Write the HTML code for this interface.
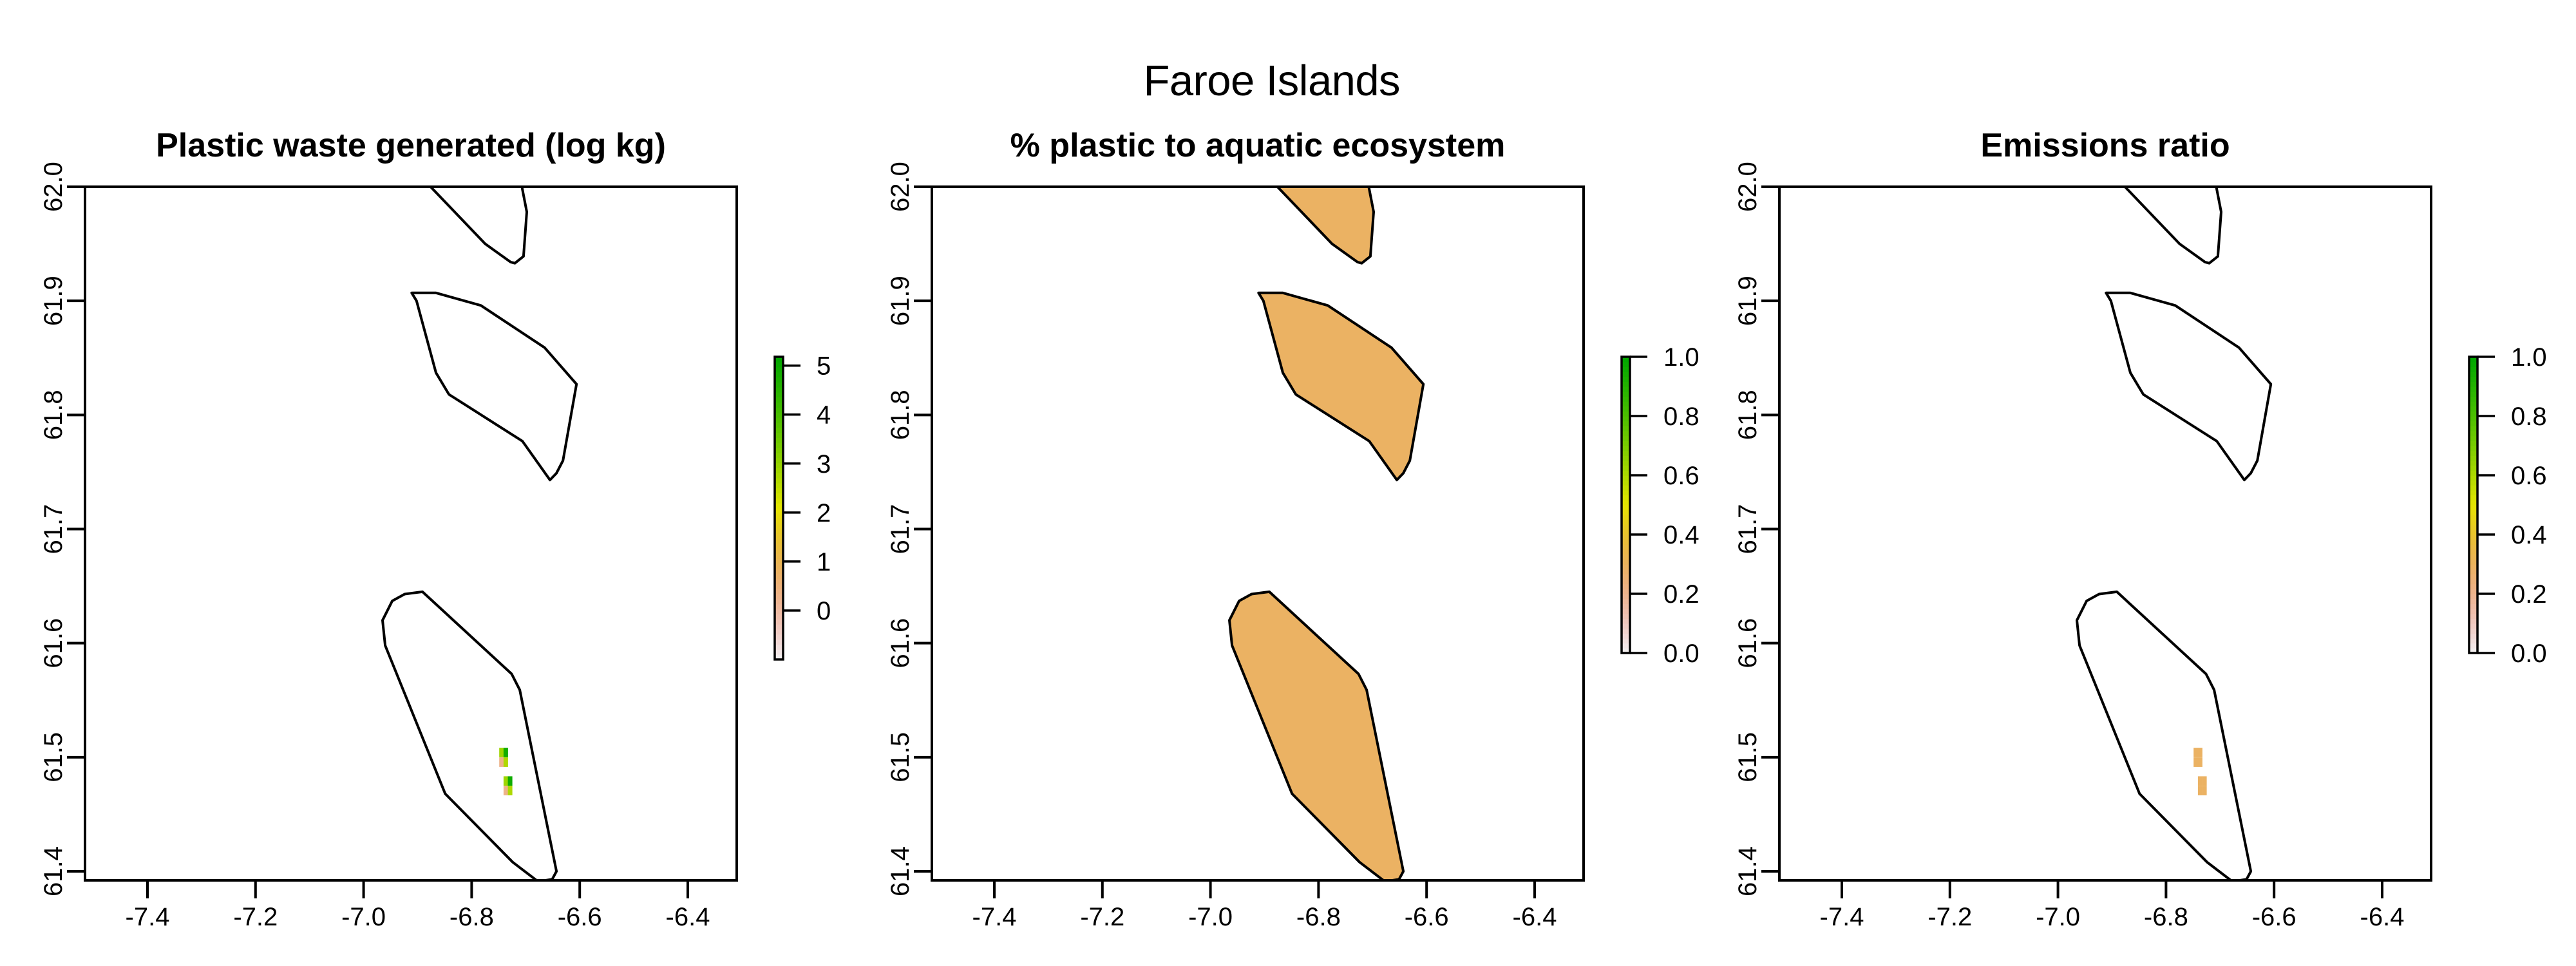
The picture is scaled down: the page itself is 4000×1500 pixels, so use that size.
<!DOCTYPE html>
<html><head><meta charset="utf-8"><style>
html,body{margin:0;padding:0;background:#fff;}
svg{display:block;font-family:"Liberation Sans",Arial,sans-serif;}
</style></head><body>
<svg id="fig" width="4000" height="1500" viewBox="0 0 4000 1500" xmlns="http://www.w3.org/2000/svg">
<rect width="4000" height="1500" fill="#fff"/>
<text x="1975" y="148" font-size="67" text-anchor="middle" textLength="399">Faroe Islands</text>
</svg>
<script>
// ---- data ----
const panelTitles = ["Plastic waste generated (log kg)", "% plastic to aquatic ecosystem", "Emissions ratio"];
const xTicks = [-7.4, -7.2, -7.0, -6.8, -6.6, -6.4];
const xTickLabels = ["-7.4", "-7.2", "-7.0", "-6.8", "-6.6", "-6.4"];
const yTicks = [61.4, 61.5, 61.6, 61.7, 61.8, 61.9, 62.0];
const yTickLabels = ["61.4", "61.5", "61.6", "61.7", "61.8", "61.9", "62.0"];
const island1Lon = [-6.876, -6.775, -6.728, -6.720, -6.704, -6.698, -6.707, -6.700, -6.880];
const island1Lat = [62.000, 61.950, 61.934, 61.933, 61.939, 61.978, 62.000, 62.050, 62.050];
const island2Lon = [-6.911, -6.866, -6.783, -6.665, -6.606, -6.631, -6.643, -6.655, -6.706, -6.842, -6.866, -6.902];
const island2Lat = [61.907, 61.907, 61.896, 61.859, 61.827, 61.760, 61.749, 61.743, 61.777, 61.818, 61.837, 61.900];
const island3Lon = [-6.891, -6.924, -6.947, -6.965, -6.960, -6.849, -6.724, -6.677, -6.651, -6.643, -6.711, -6.726];
const island3Lat = [61.645, 61.643, 61.637, 61.620, 61.598, 61.468, 61.408, 61.391, 61.393, 61.400, 61.559, 61.573];
// raster cells (lower-left lon/lat of each 1/120 degree cell)
const cellLon = [-6.7490, -6.7410, -6.7490, -6.7410, -6.7410, -6.7330, -6.7410, -6.7330];
const cellLat = [61.5000, 61.5000, 61.4915, 61.4915, 61.4750, 61.4750, 61.4666, 61.4666];
const wasteValues = [2.9, 4.9, 0.3, 2.7, 2.9, 4.9, 0.3, 2.7];
const emissionValues = [0.29, 0.29, 0.29, 0.29, 0.29, 0.29, 0.29, 0.29];
const aquaticFraction = 0.29;
const legend1Range = [-1.0, 5.18];
const legend1Ticks = [0, 1, 2, 3, 4, 5];
const legendUnitRange = [0, 1];
const legendUnitTicks = [0, 0.2, 0.4, 0.6, 0.8, 1.0];
const legendUnitLabels = ["0.0", "0.2", "0.4", "0.6", "0.8", "1.0"];

// ---- layout ----
const NS = "http://www.w3.org/2000/svg";
const svg = document.getElementById('fig');
const offsets = [0, 1315, 2631];
const L = 132, R = 1144, T = 290, B = 1367;
const xmin = -7.5156, xmax = -6.3094, ymin = 61.3921, ymax = 62.0;
const CELL = 1 / 120;

function mk(tag, attrs, parent) {
  const e = document.createElementNS(NS, tag);
  for (const k in attrs) e.setAttribute(k, attrs[k]);
  (parent || svg).appendChild(e);
  return e;
}
function hsv2rgb(h, s, v) {
  const c = v * s, hp = (h % 360) / 60, x = c * (1 - Math.abs(hp % 2 - 1));
  let r = 0, g = 0, b = 0;
  if (hp < 1) { r = c; g = x; } else if (hp < 2) { r = x; g = c; } else if (hp < 3) { g = c; b = x; }
  else if (hp < 4) { g = x; b = c; } else if (hp < 5) { r = x; b = c; } else { r = c; b = x; }
  const m = v - c;
  return `rgb(${Math.round((r + m) * 255)},${Math.round((g + m) * 255)},${Math.round((b + m) * 255)})`;
}
// reversed terrain colors, t in [0,1] (low -> high)
function terrain(t) {
  t = Math.max(0, Math.min(1, t));
  if (t < 0.5) { const u = t / 0.5; return hsv2rgb(60 * u, u, 0.95 - 0.05 * u); }
  const u = (t - 0.5) / 0.5; return hsv2rgb(60 + 60 * u, 1, 0.9 - 0.25 * u);
}

offsets.forEach((off, p) => {
  const g = mk('g', {});
  
  
  const sx = lon => off + L + (lon - xmin) / (xmax - xmin) * (R - L);
  const sy = lat => T + (ymax - lat) / (ymax - ymin) * (B - T);

  const cp = mk('clipPath', { id: 'clip' + p }, g);
  mk('rect', { x: off + L, y: T, width: R - L, height: B - T }, cp);
  const plot = mk('g', { 'clip-path': `url(#clip${p})` }, g);
  
  

  const islands = [[island1Lon, island1Lat], [island2Lon, island2Lat], [island3Lon, island3Lat]];
  islands.forEach((isl, i) => {
    const pts = isl[0].map((lon, k) => sx(lon).toFixed(1) + ',' + sy(isl[1][k]).toFixed(1)).join(' ');
    const fill = p === 1 ? terrain((aquaticFraction - legendUnitRange[0]) / (legendUnitRange[1] - legendUnitRange[0])) : 'none';
    const poly = mk('polygon', { points: pts, fill: fill, stroke: '#000', 'stroke-width': 4, 'stroke-linejoin': 'round' }, plot);
    
    
  });

  if (p !== 1) {
    const vals = p === 0 ? wasteValues : emissionValues;
    const rng = p === 0 ? legend1Range : legendUnitRange;
    cellLon.forEach((lon, k) => {
      const x0 = sx(lon), x1 = sx(lon + CELL), y0 = sy(cellLat[k] + CELL), y1 = sy(cellLat[k]);
      const r = mk('rect', { x: x0.toFixed(1), y: y0.toFixed(1), width: (x1 - x0).toFixed(1), height: (y1 - y0).toFixed(1),
        fill: terrain((vals[k] - rng[0]) / (rng[1] - rng[0])) }, plot);
      
      
    });
  }

  const box = mk('rect', { x: off + L, y: T, width: R - L, height: B - T, fill: 'none', stroke: '#000', 'stroke-width': 4 }, g);
  
  

  xTicks.forEach((v, i) => {
    const x = sx(v);
    const t = mk('line', { x1: x, y1: B, x2: x, y2: B + 28, stroke: '#000', 'stroke-width': 4 }, g);
    
    
    const lb = mk('text', { x: x, y: 1437, 'font-size': 40, 'text-anchor': 'middle' }, g);
    lb.textContent = xTickLabels[i];
    
    
  });
  yTicks.forEach((v, i) => {
    const y = sy(v);
    const t = mk('line', { x1: off + L, y1: y, x2: off + L - 28, y2: y, stroke: '#000', 'stroke-width': 4 }, g);
    
    
    const lx = off + 96;
    const lb = mk('text', { x: lx, y: y, 'font-size': 40, 'text-anchor': 'middle', transform: `rotate(-90 ${lx} ${y})` }, g);
    lb.textContent = yTickLabels[i];
    
    
  });

  const tt = mk('text', { x: off + (L + R) / 2, y: 243, 'font-size': 52, 'font-weight': 'bold', 'text-anchor': 'middle' }, g);
  tt.textContent = panelTitles[p];
  
  

  // legend
  const lg = mk('g', {}, g);
  
  
  const bx0 = off + 1203, bx1 = off + 1216, bTop = 554, bBot = p === 0 ? 1024 : 1014;
  const rng = p === 0 ? legend1Range : legendUnitRange;
  const ticks = p === 0 ? legend1Ticks : legendUnitTicks;
  const ly = v => bBot - (v - rng[0]) / (rng[1] - rng[0]) * (bBot - bTop);
  const N = 60;
  for (let k = 0; k < N; k++) {
    const y0 = bBot - (k + 1) / N * (bBot - bTop), h = (bBot - bTop) / N;
    mk('rect', { x: bx0, y: y0.toFixed(2), width: bx1 - bx0, height: (h + 0.6).toFixed(2), fill: terrain((k + 0.5) / N) }, lg);
  }
  mk('rect', { x: bx0, y: bTop, width: bx1 - bx0, height: bBot - bTop, fill: 'none', stroke: '#000', 'stroke-width': 3.5 }, lg);
  ticks.forEach((v, i) => {
    const y = ly(v);
    const t = mk('line', { x1: bx1, y1: y, x2: off + 1243, y2: y, stroke: '#000', 'stroke-width': 3.5 }, lg);
    
    
    const lb = mk('text', { x: off + 1268, y: y + 14, 'font-size': 40 }, lg);
    lb.textContent = p === 0 ? String(v) : legendUnitLabels[i];
    
    
  });
});
</script>
</body></html>
